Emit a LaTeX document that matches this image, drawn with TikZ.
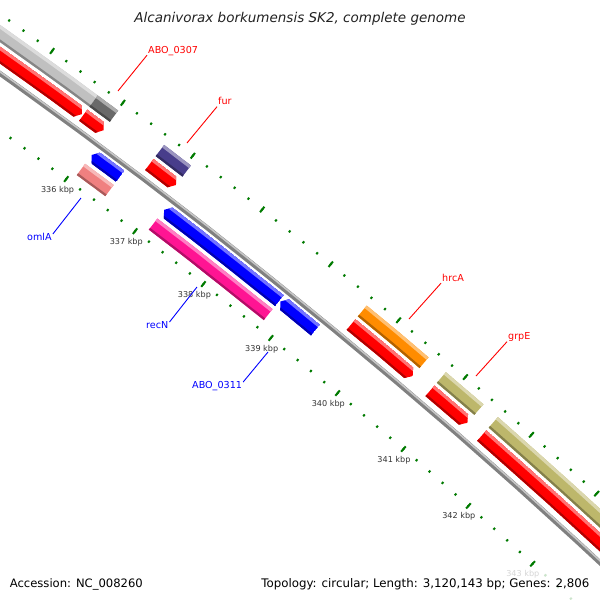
\documentclass[tikz,border=0pt]{standalone}
\usepackage{fontspec}
\setmainfont{DejaVu Sans}
\definecolor{cdsred}{RGB}{255,0,0}
\definecolor{cdsblue}{RGB}{0,0,255}
\definecolor{cogsilver}{RGB}{192,192,192}
\definecolor{cogdim}{RGB}{105,105,105}
\definecolor{cogslate}{RGB}{72,61,139}
\definecolor{cogcoral}{RGB}{240,128,128}
\definecolor{cogpink}{RGB}{255,20,147}
\definecolor{cogorange}{RGB}{255,140,0}
\definecolor{cogkhaki}{RGB}{189,183,107}
\definecolor{tickgreen}{RGB}{0,122,0}
\definecolor{backbonegray}{RGB}{128,128,128}
\definecolor{kbptext}{RGB}{51,51,51}
\definecolor{titlegray}{RGB}{34,34,34}
\begin{document}
\begin{tikzpicture}[x=1pt,y=-1pt,samples=9,font=\fontsize{9.6}{11}\selectfont,
    declare function={th(\k)=-50.5+(\k-339.5)*0.825;},
    tickmark/.style={tickgreen,line width=2pt},
    genelbl/.style={inner sep=1pt,text height=7pt,text depth=1pt,anchor=base west},
    redlbl/.style={genelbl,text=red},
    bluelbl/.style={genelbl,text=blue},
    kbplbl/.style={text=kbptext,inner sep=0.5pt,font=\fontsize{8.1}{9}\selectfont},
    pointer/.style={line width=0.9pt}]
    \def\rD{6016.5}
    \def\rC{6034.5}
    \def\rbb{6046.5}
    \def\rB{6061.5}
    \def\rA{6079}
    \def\rin{6000}
    \def\rout{6095}

    % shaded bar along the ring: k1, k2, radius, colour
    \def\genebar#1#2#3#4{%
        \fill[#4] plot[domain=#1:#2] ({th(\x)}:{#3+7}) -- plot[domain=#2:#1] ({th(\x)}:{#3-7}) -- cycle;
        \fill[#4!55!white] plot[domain=#1:#2] ({th(\x)}:{#3+7}) -- plot[domain=#2:#1] ({th(\x)}:{#3+3.8}) -- cycle;
        \fill[#4!70!black] plot[domain=#1:#2] ({th(\x)}:{#3-4.8}) -- plot[domain=#2:#1] ({th(\x)}:{#3-7}) -- cycle;}
    \def\fwdcds#1#2#3#4{%
        \pgfmathsetmacro\kneck{#2-0.06}
        \begin{scope}
            \clip plot[domain=#1:\kneck] ({th(\x)}:{#3+7}) -- ({th(#2)}:#3) -- plot[domain=\kneck:#1] ({th(\x)}:{#3-7}) -- cycle;
            \genebar{#1}{#2}{#3}{#4}
        \end{scope}}
    \def\revcds#1#2#3#4{%
        \pgfmathsetmacro\kneck{#1+0.06}
        \begin{scope}
            \clip ({th(#1)}:#3) -- plot[domain=\kneck:#2] ({th(\x)}:{#3+7}) -- plot[domain=#2:\kneck] ({th(\x)}:{#3-7}) -- cycle;
            \genebar{#1}{#2}{#3}{#4}
        \end{scope}}

    \useasboundingbox (0,0) rectangle (600,600);
    \clip (0,0) rectangle (600,600);

    \begin{scope}[shift={(-3512,4995)}]
        % ticks, every 200 bp
        \foreach \i in {1665,...,1730}{
            \pgfmathsetmacro\kk{\i/5}
            \draw[tickmark] ({th(\kk)}:{\rin-1.2}) -- ({th(\kk)}:{\rin+1.2});
            \draw[tickmark] ({th(\kk)}:{\rout-1.2}) -- ({th(\kk)}:{\rout+1.2});
        }
        \foreach \k in {333,...,346}{
            \draw[tickmark] ({th(\k)}:{\rin-3.5}) -- ({th(\k)}:{\rin+3.5});
            \draw[tickmark] ({th(\k)}:{\rout-3.5}) -- ({th(\k)}:{\rout+3.5});
        }
        \foreach \k in {336,...,343}
            \node[kbplbl] (kbp\k) at ({th(\k)}:5985.5) {\k\ kbp};

        % backbone
        \draw[backbonegray,line width=5pt] plot[domain=333:346,samples=15] ({th(\x)}:\rbb);
        \draw[backbonegray!45!white,line width=1.6pt] plot[domain=333:346,samples=15] ({th(\x)}:{\rbb+1.4});

        % outer COG track
        \genebar{333}{335.72}{\rA}{cogsilver}
        \genebar{335.72}{336.01}{\rA}{cogdim}
        \genebar{336.665}{337.05}{\rA}{cogslate}
        \genebar{339.615}{340.535}{\rA}{cogorange}
        \genebar{340.795}{341.36}{\rA}{cogkhaki}
        \genebar{341.58}{346}{\rA}{cogkhaki}
        % forward CDS
        \fwdcds{333}{335.70}{\rB}{cdsred}
        \fwdcds{335.72}{336.01}{\rB}{cdsred}
        \fwdcds{336.665}{337.05}{\rB}{cdsred}
        \fwdcds{339.615}{340.535}{\rB}{cdsred}
        \fwdcds{340.795}{341.36}{\rB}{cdsred}
        \fwdcds{341.58}{346}{\rB}{cdsred}
        % reverse CDS
        \revcds{336.07}{336.48}{\rC}{cdsblue}
        \revcds{337.115}{338.805}{\rC}{cdsblue}
        \revcds{338.82}{339.34}{\rC}{cdsblue}
        % inner COG track
        \genebar{336.07}{336.48}{\rD}{cogcoral}
        \genebar{337.115}{338.805}{\rD}{cogpink}
    \end{scope}

    % gene labels
    \coordinate (abo0307-pt) at (118,91);
    \coordinate (fur-pt) at (187,143);
    \coordinate (hrca-pt) at (409,319);
    \coordinate (grpe-pt) at (476,376);
    \coordinate (omla-pt) at (81,198);
    \coordinate (recn-pt) at (197,287);
    \coordinate (abo0311-pt) at (268,352);

    \node[redlbl] (abo0307) at (147,53) {ABO\_0307};
    \node[redlbl] (fur) at (217,104.5) {fur};
    \node[redlbl] (hrca) at (441,281) {hrcA};
    \node[redlbl] (grpe) at (507,339.5) {grpE};
    \node[bluelbl] (omla) at (26,240) {omlA};
    \node[bluelbl] (recn) at (145,328) {recN};
    \node[bluelbl] (abo0311) at (191,388) {ABO\_0311};

    \draw[pointer,red] (abo0307.south west) -- (abo0307-pt);
    \draw[pointer,red] (fur.south west) -- (fur-pt);
    \draw[pointer,red] (hrca.south west) -- (hrca-pt);
    \draw[pointer,red] (grpe.south west) -- (grpe-pt);
    \draw[pointer,blue] ([yshift=3pt]omla.east) -- (omla-pt);
    \draw[pointer,blue] ([yshift=3pt]recn.east) -- (recn-pt);
    \draw[pointer,blue] ([yshift=3pt]abo0311.east) -- (abo0311-pt);

    % title and legend
    \node[font=\fontsize{13.5}{15}\selectfont\itshape,text=titlegray,anchor=base] (title) at (300,22.5) {Alcanivorax borkumensis SK2, complete genome};
    \fill[white,opacity=0.8] (255,567) rectangle (600,600);
    \node[font=\fontsize{11.6}{13}\selectfont,inner sep=0pt,anchor=base west] (accession) at (9.6,587) {Accession: NC\_008260};
    \node[font=\fontsize{11.8}{13}\selectfont,inner sep=0pt,anchor=base east] (topology) at (589.5,587) {Topology: circular; Length: 3,120,143 bp; Genes: 2,806};
\end{tikzpicture}
\end{document}
